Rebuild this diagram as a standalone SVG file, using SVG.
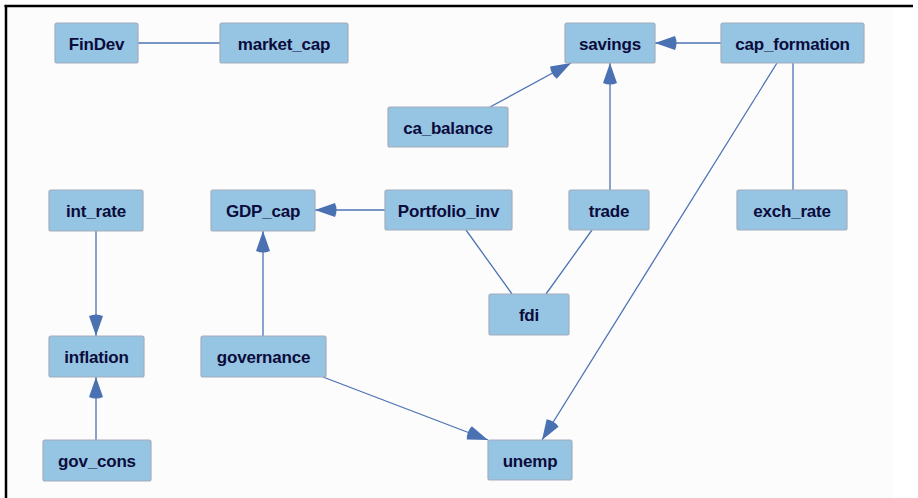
<svg xmlns="http://www.w3.org/2000/svg" width="918" height="498" viewBox="0 0 918 498">
<style>
.node rect{fill:#95c5e2;stroke:#a3acbb;stroke-width:1.2}
.node text{font-family:"Liberation Sans",Arial,sans-serif;font-weight:bold;font-size:17px;letter-spacing:-0.2px;fill:#0b0b3c;text-anchor:middle}
.edges line{stroke:#4c73b3;stroke-width:1.3}
.arr{marker-end:url(#ah)}
</style>
<defs>
<marker id="ah" markerUnits="userSpaceOnUse" markerWidth="26" markerHeight="18" viewBox="0 0 26 18" refX="23" refY="9" orient="auto">
<path d="M23,9 L3,2 Q0,9 3,16 Z" fill="#4a71b1"/>
</marker>
</defs>
<rect x="0" y="0" width="918" height="498" fill="#ffffff"/>
<rect x="7" y="7" width="886" height="491" fill="#fcfcfc"/>
<line x1="4.5" y1="6" x2="913" y2="6" stroke="#000" stroke-width="2.5"/>
<line x1="6" y1="5" x2="6" y2="498" stroke="#000" stroke-width="2.5"/>
<g class="edges">
<line x1="138" y1="43" x2="220" y2="43"/>
<line x1="793" y1="63" x2="793" y2="190"/>
<line x1="466" y1="230" x2="512" y2="294"/>
<line x1="592" y1="230" x2="546" y2="294"/>
<line class="arr" x1="721" y1="43" x2="655" y2="43"/>
<line class="arr" x1="490" y1="107" x2="571" y2="63"/>
<line class="arr" x1="610" y1="190" x2="610" y2="63"/>
<line class="arr" x1="777" y1="63" x2="542" y2="440"/>
<line class="arr" x1="385" y1="210" x2="315" y2="210"/>
<line class="arr" x1="263" y1="336" x2="263" y2="231"/>
<line class="arr" x1="323" y1="377" x2="488" y2="440"/>
<line class="arr" x1="96" y1="231" x2="96" y2="336"/>
<line class="arr" x1="96" y1="440" x2="96" y2="377"/>
</g>
<g id="FinDev" class="node"><rect x="55" y="23" width="83" height="40" rx="2"/><text x="96.5" y="49.5">FinDev</text></g>
<g id="market_cap" class="node"><rect x="220" y="23" width="128" height="40" rx="2"/><text x="284" y="49.5">market_cap</text></g>
<g id="savings" class="node"><rect x="565" y="23" width="90" height="40" rx="2"/><text x="610" y="49.5">savings</text></g>
<g id="cap_formation" class="node"><rect x="721" y="23" width="143" height="40" rx="2"/><text x="792.5" y="49.5">cap_formation</text></g>
<g id="ca_balance" class="node"><rect x="388" y="107" width="120" height="40" rx="2"/><text x="448" y="133.5">ca_balance</text></g>
<g id="int_rate" class="node"><rect x="49" y="190" width="94" height="41" rx="2"/><text x="96" y="216.5">int_rate</text></g>
<g id="GDP_cap" class="node"><rect x="211" y="190" width="104" height="41" rx="2"/><text x="263" y="216.5">GDP_cap</text></g>
<g id="Portfolio_inv" class="node"><rect x="385" y="190" width="127" height="40" rx="2"/><text x="448.5" y="216.5">Portfolio_inv</text></g>
<g id="trade" class="node"><rect x="569" y="190" width="80" height="40" rx="2"/><text x="609" y="216.5">trade</text></g>
<g id="exch_rate" class="node"><rect x="737" y="190" width="110" height="40" rx="2"/><text x="792" y="216.5">exch_rate</text></g>
<g id="fdi" class="node"><rect x="489" y="294" width="80" height="41" rx="2"/><text x="529" y="320.5">fdi</text></g>
<g id="inflation" class="node"><rect x="49" y="336" width="95" height="41" rx="2"/><text x="96.5" y="362.5">inflation</text></g>
<g id="governance" class="node"><rect x="201" y="336" width="125" height="41" rx="2"/><text x="263.5" y="362.5">governance</text></g>
<g id="gov_cons" class="node"><rect x="43" y="440" width="108" height="41" rx="2"/><text x="97" y="466.5">gov_cons</text></g>
<g id="unemp" class="node"><rect x="488" y="440" width="84" height="40" rx="2"/><text x="530" y="466.5">unemp</text></g>
</svg>
